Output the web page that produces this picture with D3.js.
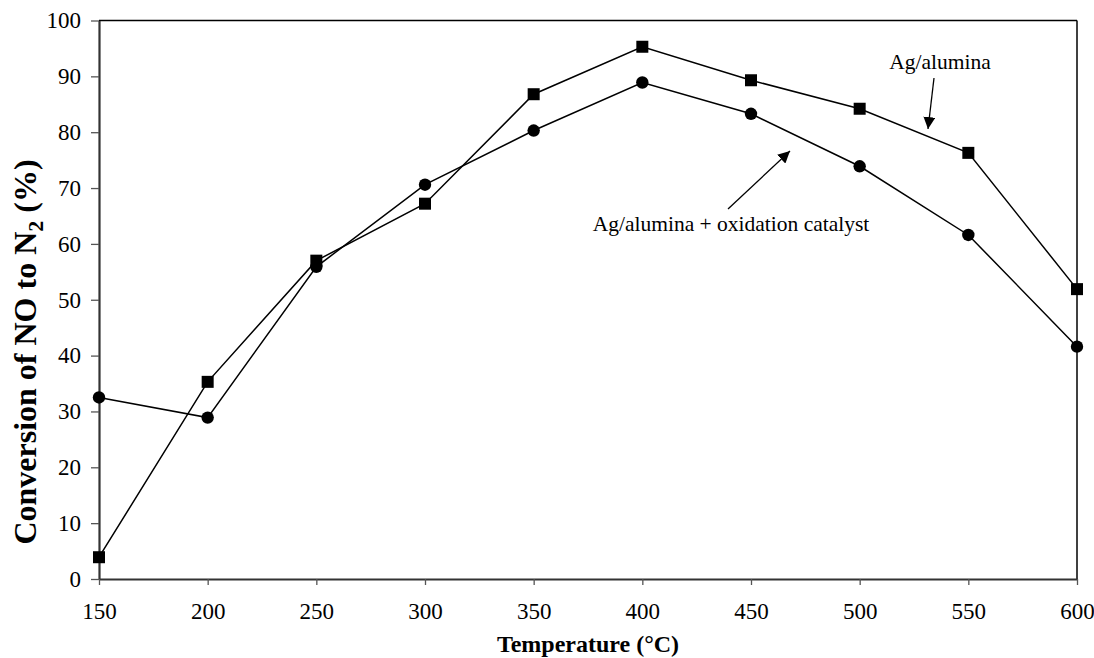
<!DOCTYPE html>
<html><head><meta charset="utf-8">
<script src="https://cdn.jsdelivr.net/npm/d3@7"></script>
<style>body{margin:0;background:#fff}svg{display:block}text{font-family:"Liberation Serif","Times New Roman",serif}</style>
</head><body>
<svg id="c" width="1094" height="658"></svg>
<script>
const temps = [150,200,250,300,350,400,450,500,550,600];
const agAlumina = [3.9,35.3,57.0,67.2,86.8,95.3,89.3,84.2,76.3,51.9];
const agAluminaOx = [32.5,28.9,55.9,70.6,80.3,88.9,83.3,73.9,61.6,41.6];
const xTicks = [150,200,250,300,350,400,450,500,550,600];
const yTicks = [0,10,20,30,40,50,60,70,80,90,100];

const svg = d3.select("#c");
const L=99, R=1077, T=20.5, B=579;
const x = d3.scaleLinear().domain([150,600]).range([L,R]);
const y = d3.scaleLinear().domain([0,100]).range([B,T]);

// frame top/right
svg.append("line").attr("x1",L).attr("x2",R).attr("y1",T).attr("y2",T).attr("stroke","#000").attr("stroke-width",1.5);
svg.append("line").attr("x1",R).attr("x2",R).attr("y1",T).attr("y2",B).attr("stroke","#000").attr("stroke-width",1.5);

const yAxis = svg.append("g").attr("transform",`translate(${L},0)`)
  .call(d3.axisLeft(y).tickValues(yTicks).tickSize(8).tickPadding(10).tickSizeOuter(0));
const xAxis = svg.append("g").attr("transform",`translate(0,${B})`)
  .call(d3.axisBottom(x).tickValues(xTicks).tickSize(6).tickPadding(18).tickSizeOuter(0));
[yAxis,xAxis].forEach(g=>{
  g.attr("font-size",23).attr("font-family","Liberation Serif");
  g.select(".domain").attr("stroke","#333").attr("stroke-width",2.2);
  g.selectAll(".tick line").attr("stroke","#555").attr("stroke-width",1.3);
  g.selectAll("text").attr("fill","#000");
});

const line = d3.line().x((d,i)=>x(temps[i])).y(d=>y(d));
svg.append("path").datum(agAlumina).attr("d",line).attr("fill","none").attr("stroke","#000").attr("stroke-width",1.5);
svg.append("path").datum(agAluminaOx).attr("d",line).attr("fill","none").attr("stroke","#000").attr("stroke-width",1.5);

const s=12;
svg.selectAll(".sq").data(agAlumina).enter().append("rect")
  .attr("x",(d,i)=>x(temps[i])-s/2).attr("y",d=>y(d)-s/2).attr("width",s).attr("height",s).attr("fill","#000");
svg.selectAll(".ci").data(agAluminaOx).enter().append("circle")
  .attr("cx",(d,i)=>x(temps[i])).attr("cy",d=>y(d)).attr("r",6.2).attr("fill","#000");

// arrows
svg.append("defs").append("marker").attr("id","ah").attr("viewBox","0 0 10 10").attr("refX",10).attr("refY",5)
  .attr("markerWidth",12).attr("markerHeight",12).attr("markerUnits","userSpaceOnUse").attr("orient","auto")
  .append("path").attr("d","M0,0 L10,5 L0,10 z").attr("fill","#000");
function arrow(x1,y1,x2,y2){
  svg.append("line").attr("x1",x1).attr("y1",y1).attr("x2",x2).attr("y2",y2)
    .attr("stroke","#000").attr("stroke-width",1.3).attr("marker-end","url(#ah)");
}
arrow(934,78,928,129);
arrow(728,209,790,151);

svg.append("text").attr("x",940).attr("y",69).attr("text-anchor","middle").attr("font-size",21.5).text("Ag/alumina");
svg.append("text").attr("x",731).attr("y",231).attr("text-anchor","middle").attr("font-size",21.5).text("Ag/alumina + oxidation catalyst");

// axis titles
svg.append("text").attr("x",588).attr("y",652).attr("text-anchor","middle").attr("font-size",24).attr("font-weight","bold").text("Temperature (°C)");
const yt = svg.append("text").attr("transform","translate(36,352) rotate(-90)").attr("text-anchor","middle")
  .attr("font-size",32).attr("font-weight","bold");
yt.append("tspan").text("Conversion of NO to N");
yt.append("tspan").attr("font-size",22).attr("dy",7).text("2");
yt.append("tspan").attr("dy",-7).text(" (%)");
</script>
</body></html>
